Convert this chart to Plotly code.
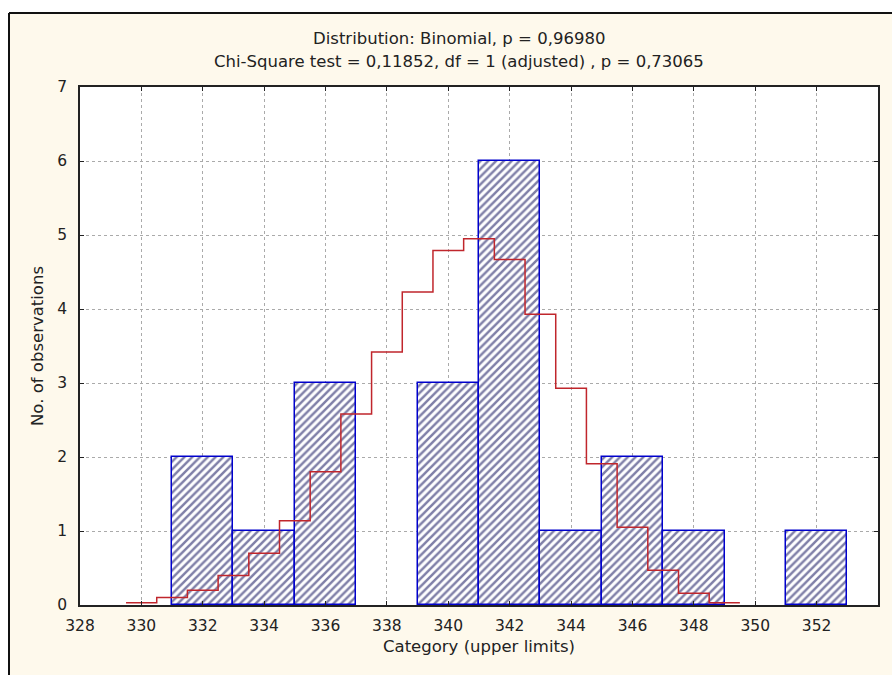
import plotly.graph_objects as go

# ---- data ----
bin_upper = [333, 335, 337, 339, 341, 343, 345, 347, 349, 351, 353]
observed = [2, 1, 3, 0, 3, 6, 1, 2, 1, 0, 1]
bin_width = 2

expected_x = [330, 331, 332, 333, 334, 335, 336, 337, 338, 339,
              340, 341, 342, 343, 344, 345, 346, 347, 348, 349]
expected_y = [0.03, 0.10, 0.20, 0.40, 0.70, 1.14, 1.80, 2.58, 3.42, 4.23,
              4.79, 4.95, 4.67, 3.93, 2.93, 1.91, 1.05, 0.47, 0.16, 0.03]

title1 = "Distribution: Binomial, p = 0,96980"
title2 = "Chi-Square test = 0,11852, df = 1 (adjusted) , p = 0,73065"
x_title = "Category (upper limits)"
y_title = "No. of observations"

# ---- layout geometry (pixels) ----
W, H = 892, 675
L, R, T, B = 80, 878, 87, 605
FONT = "DejaVu Sans"
TXT = "#222222"
CREAM = "#FEF9EC"

def px2x(p):
    return (p - L) / (R - L)

def py2y(p):
    return (B - p) / (B - T)

bar_x = [u - bin_width / 2 for u in bin_upper]
bar_line_w = [1.5 if v > 0 else 0 for v in observed]
step_x = [c - 0.5 for c in expected_x] + [expected_x[-1] + 0.5]
step_y = expected_y + [expected_y[-1]]

fig = go.Figure()
fig.add_trace(go.Bar(
    x=bar_x, y=observed, width=bin_width,
    marker=dict(
        color="white",
        line=dict(color="#0000CC", width=bar_line_w),
        pattern=dict(shape="/", fgcolor="#000050", bgcolor="white",
                     size=5.5, solidity=0.45),
    ),
    showlegend=False,
))
fig.add_trace(go.Scatter(
    x=step_x, y=step_y, mode="lines",
    line=dict(color="#C0262C", width=1.5, shape="hv"),
    showlegend=False,
))

axis_common = dict(
    showline=True, linecolor="#222222", linewidth=1.5, mirror="ticks",
    ticks="inside", ticklen=4, tickcolor="#222222",
    showgrid=True, gridcolor="#AAAAAA", gridwidth=1, griddash="dot",
    zeroline=False,
    tickfont=dict(family=FONT, size=15.5, color=TXT),
)

fig.update_xaxes(range=[328, 354], dtick=2, tick0=328,
                 ticklabelstandoff=6,
                 title=dict(text=x_title, font=dict(family=FONT, size=16.5, color=TXT), standoff=6),
                 **axis_common)
fig.update_yaxes(range=[0, 7], dtick=1, tick0=0,
                 ticklabelstandoff=8,
                 title=dict(text=y_title, font=dict(family=FONT, size=16.5, color=TXT), standoff=10),
                 **axis_common)

shapes = [
    # white strips outside the outer frame
    dict(type="rect", xref="paper", yref="paper", x0=px2x(-5), x1=px2x(9),
         y0=py2y(H + 5), y1=py2y(-5), fillcolor="white", line=dict(width=0), layer="above"),
    dict(type="rect", xref="paper", yref="paper", x0=px2x(-5), x1=px2x(W + 5),
         y0=py2y(13), y1=py2y(-5), fillcolor="white", line=dict(width=0), layer="above"),
    # outer frame lines
    dict(type="line", xref="paper", yref="paper", x0=px2x(9), x1=px2x(9),
         y0=py2y(H + 5), y1=py2y(13), line=dict(color="#111111", width=2), layer="above"),
    dict(type="line", xref="paper", yref="paper", x0=px2x(9), x1=px2x(W + 5),
         y0=py2y(13), y1=py2y(13), line=dict(color="#111111", width=2), layer="above"),
]

annotations = [
    dict(text=title1, xref="paper", yref="paper", x=px2x(459), y=py2y(38),
         xanchor="center", yanchor="middle", showarrow=False,
         font=dict(family=FONT, size=16.5, color=TXT)),
    dict(text=title2, xref="paper", yref="paper", x=px2x(459), y=py2y(61),
         xanchor="center", yanchor="middle", showarrow=False,
         font=dict(family=FONT, size=16.5, color=TXT)),
]

fig.update_layout(
    width=W, height=H,
    margin=dict(l=L, r=W - R, t=T, b=H - B, pad=0),
    paper_bgcolor=CREAM, plot_bgcolor="white",
    bargap=0, barmode="overlay",
    shapes=shapes, annotations=annotations,
    font=dict(family=FONT, color=TXT),
)

fig.write_html("out.html")
